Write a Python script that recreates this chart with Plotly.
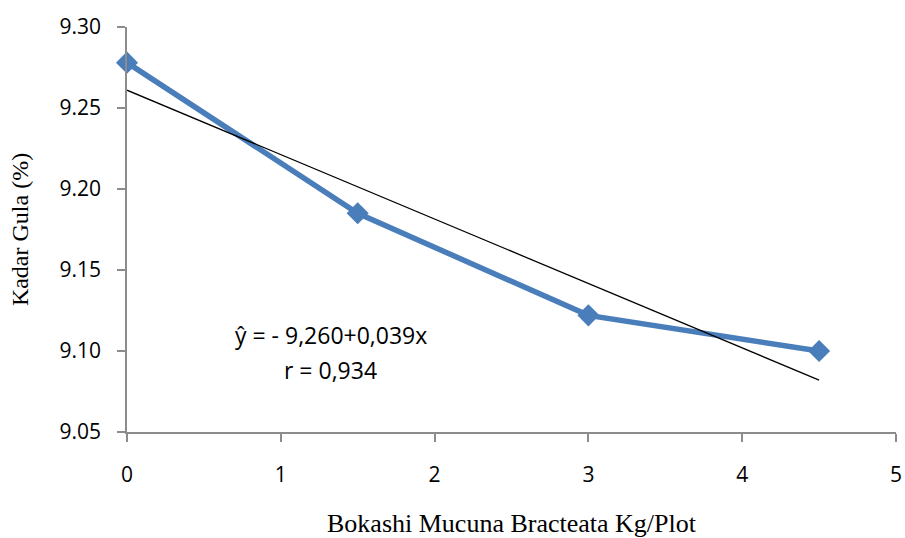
import plotly.graph_objects as go

x_vals = [0, 1.5, 3, 4.5]
y_vals = [9.278, 9.185, 9.122, 9.100]
trend_x = [0, 4.5]
trend_y = [9.261, 9.082]
x_ticks = [0, 1, 2, 3, 4, 5]
y_ticks = [9.05, 9.10, 9.15, 9.20, 9.25, 9.30]
y_tick_labels = ["9.05", "9.10", "9.15", "9.20", "9.25", "9.30"]
eq_lines = ["ŷ = - 9,260+0,039x", "r = 0,934"]

fig = go.Figure()
fig.add_trace(go.Scatter(x=x_vals, y=y_vals, mode="lines+markers",
                         line=dict(color="#4a7ebb", width=5.5),
                         marker=dict(symbol="diamond", size=17, color="#4a7ebb"),
                         showlegend=False, cliponaxis=False))
fig.add_trace(go.Scatter(x=trend_x, y=trend_y, mode="lines",
                         line=dict(color="black", width=1.3), showlegend=False))

fig.add_annotation(x=1.326, y=9.110, xref="x", yref="y", text=eq_lines[0],
                   showarrow=False, font=dict(family="Open Sans", size=23, color="black"))
fig.add_annotation(x=1.326, y=9.088, xref="x", yref="y", text=eq_lines[1],
                   showarrow=False, font=dict(family="Open Sans", size=23, color="black"))

axis_common = dict(showgrid=False, zeroline=False, showline=True, linecolor="#8c8c8c",
                   linewidth=1.5, ticks="outside", tickcolor="#8c8c8c", ticklen=8, tickwidth=1.5,
                   tickfont=dict(family="Open Sans", size=21, color="black"),
                   automargin=False, ticklabeloverflow="allow")

fig.update_layout(
    width=905, height=538,
    margin=dict(l=127, r=9, t=27, b=106),
    plot_bgcolor="white", paper_bgcolor="white",
    xaxis=dict(range=[0, 5], tickvals=x_ticks, ticktext=[str(t) for t in x_ticks],
               title=dict(text="Bokashi Mucuna Bracteata Kg/Plot",
                          font=dict(family="Liberation Serif", size=26, color="black"),
                          standoff=30),
               **axis_common),
    yaxis=dict(range=[9.05, 9.30], tickvals=y_ticks, ticktext=y_tick_labels,
               title=dict(text="Kadar Gula (%)",
                          font=dict(family="Liberation Serif", size=24, color="black"),
                          standoff=24),
               **axis_common),
)
fig.update_xaxes(ticklabelstandoff=15)
fig.update_yaxes(ticklabelstandoff=12)

fig.write_html("out.html")
